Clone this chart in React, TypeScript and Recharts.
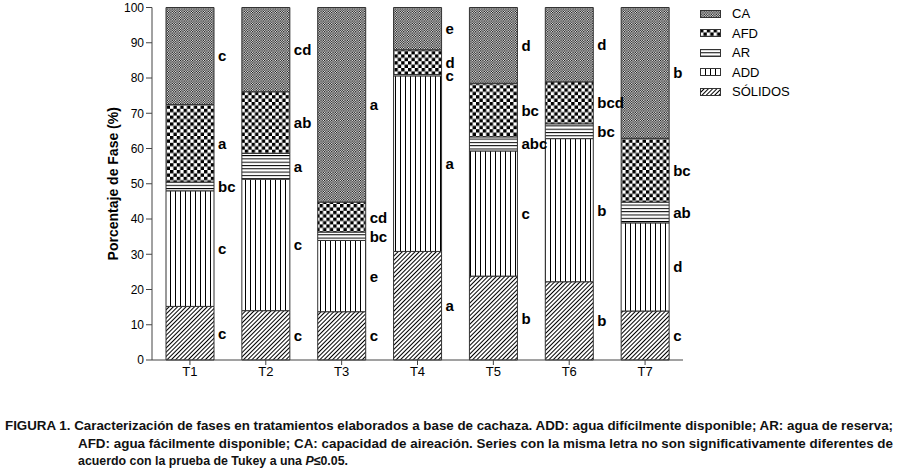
import React from 'react';
import { BarChart, Bar, XAxis, YAxis, LabelList } from 'recharts';

const categories = ['T1', 'T2', 'T3', 'T4', 'T5', 'T6', 'T7'];
const solidos = [15.2, 14.0, 13.7, 30.8, 23.8, 22.2, 13.9];
const add = [32.8, 37.3, 20.2, 49.8, 35.5, 40.6, 25.0];
const ar = [2.5, 7.3, 2.4, 0.4, 4.0, 4.2, 5.9];
const afd = [22.0, 17.5, 8.5, 7.0, 15.2, 11.9, 18.1];
const ca = [27.5, 23.9, 55.2, 12.0, 21.5, 21.1, 37.1];

const solidosLetters = ['c', 'c', 'c', 'a', 'b', 'b', 'c'];
const addLetters = ['c', 'c', 'e', 'a', 'c', 'b', 'd'];
const arLetters = ['bc', 'a', 'bc', 'c', 'abc', 'bc', 'ab'];
const afdLetters = ['a', 'ab', 'cd', 'd', 'bc', 'bcd', 'bc'];
const caLetters = ['c', 'cd', 'a', 'e', 'd', 'd', 'b'];

const yTicks = [0, 10, 20, 30, 40, 50, 60, 70, 80, 90, 100];

const data = categories.map((name, i) => ({
    name,
    solidos: solidos[i],
    add: add[i],
    ar: ar[i],
    afd: afd[i],
    ca: ca[i]
}));

const legendItems = [
    { key: 'pCa', label: 'CA' },
    { key: 'pAfd', label: 'AFD' },
    { key: 'pAr', label: 'AR' },
    { key: 'pAdd', label: 'ADD' },
    { key: 'pSol', label: 'SÓLIDOS' }
];

const FONT = 'Arial, "Liberation Sans", Helvetica, sans-serif';

const letterLabel = (letters: string[]) => (props: any) => {
    const { x, y, width, height, index } = props;
    return (
        <text
            x={Number(x) + Number(width) + 4}
            y={Number(y) + Number(height) / 2}
            dominantBaseline="central"
            fontFamily={FONT}
            fontWeight="bold"
            fontSize={15}
            fill="#000"
        >
            {letters[index]}
        </text>
    );
};

const yTitle = (props: any) => {
    const vb = props.viewBox || {};
    const cx = vb.x + 21;
    const cy = vb.y + vb.height / 2;
    return (
        <text
            x={cx}
            y={cy}
            transform={`rotate(-90 ${cx} ${cy})`}
            textAnchor="middle"
            dominantBaseline="central"
            fontFamily={FONT}
            fontWeight="bold"
            fontSize={14}
            fill="#000"
        >
            Porcentaje de Fase (%)
        </text>
    );
};

const App: React.FC = () => {
    return (
        <div style={{ position: 'absolute', left: 0, top: 0, width: 897, height: 470, background: '#fff', fontFamily: FONT }}>
            <BarChart
                width={897}
                height={390}
                data={data}
                margin={{ top: 7.5, right: 214, bottom: 8, left: 92 }}
                barSize={48}
            >
                <defs>
                    <pattern id="pCa" width="2.4" height="2.4" patternUnits="userSpaceOnUse">
                        <rect width="2.4" height="2.4" fill="#fff" />
                        <rect x="0" y="0" width="1.2" height="1.2" fill="#000" />
                        <rect x="1.2" y="1.2" width="1.2" height="1.2" fill="#000" />
                    </pattern>
                    <pattern id="pAfd" width="6.8" height="6.8" patternUnits="userSpaceOnUse">
                        <rect width="6.8" height="6.8" fill="#fff" />
                        <rect x="0" y="0" width="3.4" height="3.4" fill="#000" />
                        <rect x="3.4" y="3.4" width="3.4" height="3.4" fill="#000" />
                    </pattern>
                    <pattern id="pAr" width="4" height="3.3" patternUnits="userSpaceOnUse">
                        <rect width="4" height="3.3" fill="#fff" />
                        <rect x="0" y="0" width="4" height="1" fill="#000" />
                    </pattern>
                    <pattern id="pAdd" width="5" height="4" patternUnits="userSpaceOnUse">
                        <rect width="5" height="4" fill="#fff" />
                        <rect x="0" y="0" width="1" height="4" fill="#000" />
                    </pattern>
                    <pattern id="pSol" width="3" height="3" patternUnits="userSpaceOnUse" patternTransform="rotate(45)">
                        <rect width="3" height="3" fill="#fff" />
                        <rect x="0" y="0" width="1" height="3" fill="#000" />
                    </pattern>
                </defs>
                <XAxis
                    dataKey="name"
                    height={22}
                    stroke="#444"
                    tickSize={5}
                    tick={{ fill: '#000', fontSize: 13, fontFamily: FONT }}
                />
                <YAxis
                    type="number"
                    domain={[0, 100]}
                    ticks={yTicks}
                    interval={0}
                    width={60}
                    stroke="#444"
                    tickSize={6}
                    tick={{ fill: '#000', fontSize: 12, fontFamily: FONT }}
                    label={yTitle}
                />
                <Bar dataKey="solidos" stackId="s" fill="url(#pSol)" stroke="#333" strokeWidth={1} isAnimationActive={false}>
                    <LabelList dataKey="solidos" content={letterLabel(solidosLetters)} />
                </Bar>
                <Bar dataKey="add" stackId="s" fill="url(#pAdd)" stroke="#333" strokeWidth={1} isAnimationActive={false}>
                    <LabelList dataKey="add" content={letterLabel(addLetters)} />
                </Bar>
                <Bar dataKey="ar" stackId="s" fill="url(#pAr)" stroke="#333" strokeWidth={1} isAnimationActive={false}>
                    <LabelList dataKey="ar" content={letterLabel(arLetters)} />
                </Bar>
                <Bar dataKey="afd" stackId="s" fill="url(#pAfd)" stroke="#333" strokeWidth={1} isAnimationActive={false}>
                    <LabelList dataKey="afd" content={letterLabel(afdLetters)} />
                </Bar>
                <Bar dataKey="ca" stackId="s" fill="url(#pCa)" stroke="#333" strokeWidth={1} isAnimationActive={false}>
                    <LabelList dataKey="ca" content={letterLabel(caLetters)} />
                </Bar>
            </BarChart>

            <div style={{ position: 'absolute', left: 700, top: 4 }}>
                {legendItems.map((it) => (
                    <div key={it.key} style={{ display: 'flex', alignItems: 'center', height: 19.5 }}>
                        <svg width={21} height={8} style={{ display: 'block' }}>
                            <rect x={0.5} y={0.5} width={20} height={7} fill={`url(#${it.key})`} stroke="#333" />
                        </svg>
                        <span style={{ marginLeft: 11, fontSize: 13, color: '#000' }}>{it.label}</span>
                    </div>
                ))}
            </div>

            <svg style={{ position: 'absolute', left: 0, top: 400 }} width={897} height={70}>
                <g fontFamily={FONT} fontWeight="bold" fontSize={13} fill="#111">
                    <text x={5} y={30} textLength={888} lengthAdjust="spacingAndGlyphs">
                        FIGURA 1. Caracterización de fases en tratamientos elaborados a base de cachaza. ADD: agua difícilmente disponible; AR: agua de reserva;
                    </text>
                    <text x={78} y={48} textLength={815} lengthAdjust="spacingAndGlyphs">
                        AFD: agua fácilmente disponible; CA: capacidad de aireación. Series con la misma letra no son significativamente diferentes de
                    </text>
                    <text x={78} y={65} textLength={270} lengthAdjust="spacingAndGlyphs">
                        acuerdo con la prueba de Tukey a una <tspan fontStyle="italic">P</tspan>≤0.05.
                    </text>
                </g>
            </svg>
        </div>
    );
};

export default App;
